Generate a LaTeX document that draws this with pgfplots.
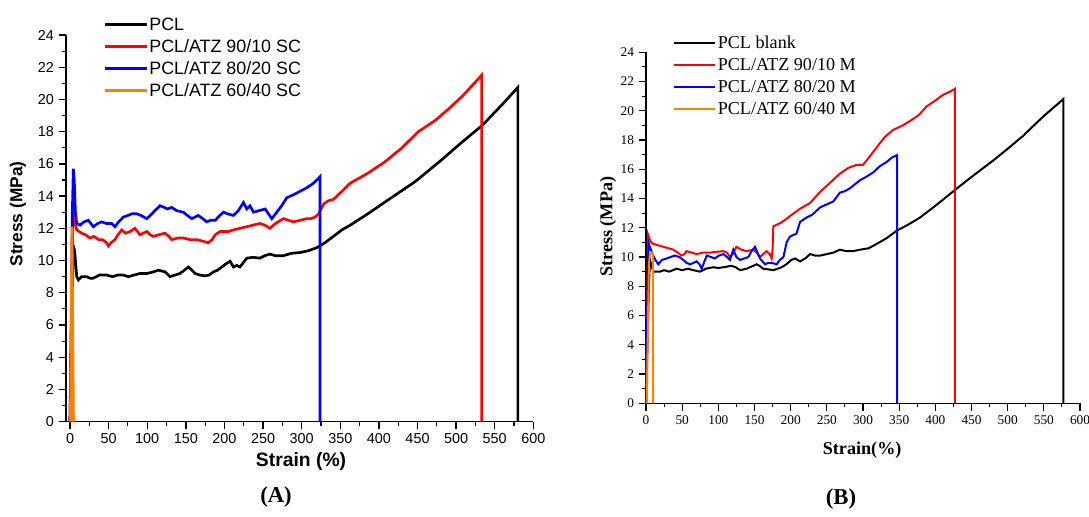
\documentclass[border=0pt]{standalone}
\usepackage{fontspec}
\setmainfont{Liberation Sans}
\newfontfamily\tnr{Liberation Serif}
\usepackage{pgfplots}
\pgfplotsset{compat=1.18}
\definecolor{myorange}{RGB}{255,128,0}
\begin{document}
\begin{tikzpicture}
\useasboundingbox (0,0) rectangle (816.75pt,387.75pt);
\begin{axis}[
 at={(49.5pt,71.5pt)}, anchor=south west, scale only axis,
 width=350.5pt, height=290pt,
 xmin=-5.2, xmax=600, ymin=0, ymax=24,
 axis lines*=left, axis line style={line width=1.2pt},
 tick align=outside, major tick length=5.5pt, minor tick length=3pt,
 major tick style={black, line width=1pt}, minor tick style={black, line width=0.8pt},
 xtick={0,50,...,600}, ytick={0,2,...,24}, minor x tick num=1, minor y tick num=1,
 ticklabel style={font=\fontsize{10.8}{12}\selectfont},
 /pgf/number format/assume math mode=true,
 xlabel={Strain (\%)}, ylabel={Stress (MPa)},
 xlabel style={font=\bfseries\fontsize{14.5}{16}\selectfont, at={(axis description cs:0.503,-0.104)}, anchor=center},
 ylabel style={font=\bfseries\fontsize{13}{15}\selectfont, at={(axis description cs:-0.103,0.537)}, anchor=center},
 legend style={draw=none, fill=none, at={(axis description cs:0.08,1.05)}, anchor=north west,
   font=\fontsize{13.4}{15}\selectfont, row sep=4.1pt, inner sep=0pt,
   nodes={inner sep=0.8pt, text height=9.8pt, text depth=1pt}},
 legend cell align=left,
 legend image code/.code={\draw[#1, line width=2pt] (0pt,0pt)--(31.5pt,0pt);},
 clip=false,
]
\addplot[black, line width=2pt] coordinates {
(0,0) (1.5,4) (3,8) (4.3,10.9) (6,10.6) (8.7,9.0) (10.8,8.8) (15,9.0) (21.6,9.0) (26,8.9) (30,8.9) (38,9.1) (47.5,9.1) (55,9.0) (62,9.1) (69,9.1) (75.6,9.0) (83,9.1) (90.7,9.2) (100,9.2) (108,9.3) (114.6,9.4) (123,9.3) (129.5,9.0) (136,9.1) (142.5,9.2) (148,9.4) (153.3,9.6) (158,9.4) (162,9.2) (168,9.1) (175,9.05) (180,9.1) (185.8,9.3) (191,9.4) (196.6,9.6) (202,9.8) (207.4,9.95) (211.7,9.6) (216,9.7) (220,9.6) (229,10.15) (237,10.2) (246,10.15) (252,10.3) (259,10.4) (266,10.3) (276,10.3) (287,10.45) (298,10.5) (308,10.6) (319.7,10.8) (330,11.1) (341,11.5) (352,11.9) (363,12.2) (385.6,12.9) (410,13.7) (447,14.9) (480,16.2) (504,17.2) (534,18.4) (560,19.7) (580,20.75) (580,0)};
\addlegendentry{PCL}
\addplot[red, line width=2pt] coordinates {
(0,0) (1.5,5) (3,11) (4.3,13.5) (6,12.5) (8.7,11.9) (15,11.7) (20,11.6) (26,11.4) (31,11.5) (37,11.3) (42,11.3) (47.5,11.1) (49.7,10.9) (53,11.1) (58.3,11.3) (62,11.6) (67,11.9) (72,11.7) (77.7,11.8) (84,12.0) (90.7,11.6) (95,11.7) (99.4,11.8) (104,11.6) (108,11.5) (115,11.6) (123,11.7) (128,11.5) (131.7,11.3) (140,11.4) (146.8,11.4) (155,11.3) (164,11.3) (172,11.2) (179,11.1) (184,11.3) (188,11.6) (194.4,11.8) (199,11.8) (205,11.8) (211.6,11.9) (220,12.0) (229,12.1) (237,12.2) (246,12.3) (252,12.2) (259,12.0) (266,12.3) (276.4,12.6) (283,12.5) (289.4,12.4) (298,12.5) (306.6,12.6) (312,12.6) (317.5,12.7) (322,12.9) (328.3,13.5) (334,13.7) (341.2,13.8) (350,14.2) (362.8,14.8) (385,15.4) (407,16.1) (430,17.0) (451,18.0) (473,18.7) (490,19.4) (508,20.2) (533,21.5) (533,0)};
\addlegendentry{PCL/ATZ 90/10 SC}
\addplot[blue, line width=2pt] coordinates {
(0,0) (1.5,6) (3,13) (4.3,15.7) (5.5,15.0) (7,13) (8.7,12.3) (13,12.2) (18,12.4) (23.8,12.5) (27,12.3) (30.2,12.1) (36,12.3) (41,12.4) (47,12.3) (54,12.3) (58.3,12.1) (63,12.4) (69,12.7) (75,12.8) (80,12.9) (86.4,12.9) (92,12.8) (99.4,12.6) (104,12.8) (110,13.1) (116.6,13.4) (122,13.3) (126,13.2) (131.7,13.3) (138,13.1) (146.8,13.0) (152,12.8) (157.6,12.6) (162,12.7) (166,12.8) (172,12.6) (177,12.4) (182,12.5) (188,12.5) (194,12.8) (198.7,13.0) (204,12.9) (211.6,12.8) (218,13.1) (224.6,13.6) (229,13.2) (233,13.4) (237.6,13.0) (245,13.1) (252.7,13.2) (257,12.9) (261.3,12.6) (267.8,13.0) (274,13.4) (280.8,13.9) (290,14.1) (298,14.3) (306,14.5) (315.3,14.8) (321.8,15.1) (323.7,15.2) (323.7,0)};
\addlegendentry{PCL/ATZ 80/20 SC}
\addplot[myorange, line width=2pt] coordinates {
(0.5,0) (1.5,6) (2.5,12.1) (3.5,6) (4.5,0)};
\addlegendentry{PCL/ATZ 60/40 SC}
\end{axis}

\begin{axis}[
 at={(484.5pt,85.3pt)}, anchor=south west, scale only axis,
 width=325.5pt, height=263.25pt,
 xmin=0, xmax=600, ymin=0, ymax=24,
 axis lines*=left, axis line style={line width=1pt},
 tick align=outside, major tick length=5.5pt, minor tick length=3pt,
 major tick style={black, line width=0.9pt}, minor tick style={black, line width=0.7pt},
 xtick={0,50,...,600}, ytick={0,2,...,24}, minor x tick num=1, minor y tick num=1,
 ticklabel style={font=\tnr\fontsize{10}{12}\selectfont},
 /pgf/number format/assume math mode=true,
 xlabel={Strain(\%)}, ylabel={Stress (MPa)},
 xlabel style={font=\tnr\bfseries\fontsize{13.6}{15}\selectfont, at={(axis description cs:0.498,-0.133)}, anchor=center},
 ylabel style={font=\tnr\bfseries\fontsize{13.6}{15}\selectfont, at={(axis description cs:-0.0876,0.503)}, anchor=center},
 legend style={draw=none, fill=none, at={(axis description cs:0.061,1.051)}, anchor=north west,
   font=\tnr\fontsize{13.6}{15}\selectfont, row sep=4.1pt, inner sep=0pt,
   nodes={inner sep=0.8pt, text height=9.8pt, text depth=1pt}},
 legend cell align=left,
 legend image code/.code={\draw[#1, line width=2pt] (0pt,0pt)--(31pt,0pt);},
 clip=false,
]
\addplot[black, line width=1.5pt] coordinates {
(0,0) (2,4) (4,8) (5.5,9.8) (7,9.5) (10,9.0) (15,9.0) (19.4,9.0) (25,9.1) (32,9.0) (42.4,9.2) (50,9.1) (58,9.2) (65.4,9.1) (74.7,9.0) (83,9.2) (93,9.3) (100,9.25) (107,9.3) (118.4,9.4) (124,9.3) (130,9.1) (139,9.2) (146,9.35) (153,9.5) (157,9.4) (162,9.2) (170,9.15) (176,9.1) (182,9.2) (187.6,9.3) (194,9.5) (201,9.8) (206,9.9) (213,9.7) (220,9.9) (227,10.2) (234,10.1) (241,10.1) (250,10.2) (259,10.3) (268,10.5) (277,10.4) (286,10.4) (296,10.5) (308,10.6) (319,10.9) (333,11.3) (346.6,11.8) (362,12.2) (378.8,12.7) (400,13.5) (420,14.3) (448,15.4) (480,16.6) (500,17.4) (521.6,18.3) (549,19.6) (577,20.8) (577,0)};
\addlegendentry{PCL blank}
\addplot[red, line width=1.5pt] coordinates {
(0,0) (1.5,6) (3,11.5) (5,11.2) (7,11.0) (10,10.9) (17,10.8) (24,10.7) (31,10.6) (37.8,10.5) (44,10.3) (49,10.1) (53,10.2) (56,10.4) (63,10.3) (70,10.2) (78,10.3) (88.5,10.3) (97,10.35) (107,10.4) (112,10.3) (116,10.0) (120,10.2) (125,10.7) (132,10.5) (139,10.4) (148.4,10.5) (153,10.3) (157.6,10.0) (162,10.2) (166.8,10.4) (171,10.2) (173.7,9.9) (175,10.5) (176,12.1) (185,12.3) (194,12.6) (199,12.8) (213,13.3) (227,13.7) (240.6,14.45) (255,15.1) (268,15.7) (280,16.1) (291,16.3) (300,16.3) (305,16.6) (319,17.5) (330,18.2) (342,18.7) (355,19.0) (365,19.3) (377,19.7) (388,20.3) (400,20.7) (411,21.1) (420,21.3) (427,21.5) (427,0)};
\addlegendentry{PCL/ATZ 90/10 M}
\addplot[blue, line width=1.5pt] coordinates {
(0,0) (1.5,5) (3,10) (4,10.9) (6,10.6) (10,10.1) (13,9.8) (17,9.5) (22,9.8) (28.6,9.9) (34,10.0) (40,10.1) (46,10.0) (51.6,9.8) (56,9.6) (61,9.5) (66,9.6) (70,9.7) (74,9.5) (77,9.2) (80,9.6) (84,10.1) (90,10.0) (95,9.9) (101,10.1) (107,10.2) (112,10.0) (116,9.8) (120.7,10.5) (125,10.0) (130,9.8) (136,9.9) (141.5,10.0) (146,10.4) (150.7,10.7) (154,10.3) (157.6,9.9) (164.5,9.5) (169,9.6) (173.7,9.6) (180.6,9.5) (185,9.8) (190,10.0) (194.4,11.0) (199,11.4) (208,11.6) (213,12.4) (222,12.7) (230,12.9) (241,13.4) (250,13.6) (259,13.8) (268,14.4) (275,14.5) (282,14.7) (287,14.9) (296,15.25) (305,15.5) (314.5,15.8) (323,16.2) (332.7,16.5) (340,16.8) (347,16.96) (347,0)};
\addlegendentry{PCL/ATZ 80/20 M}
\addplot[myorange, line width=1.5pt] coordinates {
(1,0) (4,9.5) (5.5,10.2) (8,10.3) (9.5,10.2) (9.8,0)};
\addlegendentry{PCL/ATZ 60/40 M}
\end{axis}
\node[font=\tnr\bfseries\fontsize{17}{19}\selectfont] at (207pt,15pt) {(A)};
\node[font=\tnr\bfseries\fontsize{17}{19}\selectfont] at (630.75pt,13.5pt) {(B)};
\end{tikzpicture}
\end{document}
